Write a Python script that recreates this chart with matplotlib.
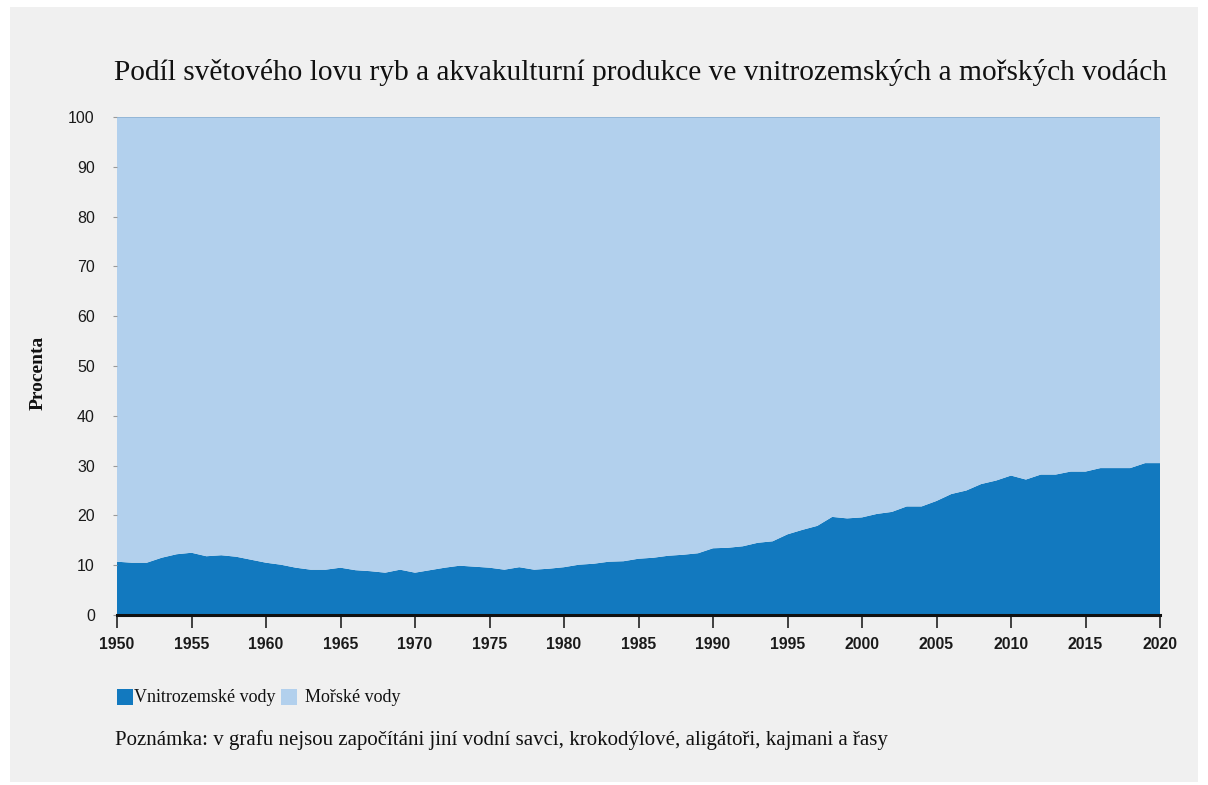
import numpy as np
import matplotlib
matplotlib.use('Agg')
import matplotlib.pyplot as plt
from matplotlib.patches import Rectangle

# Data (percent of total production)
years = list(range(1950, 2021))
inland = [10.7, 10.5, 10.5, 11.5, 12.2, 12.5, 11.8, 12.0, 11.7, 11.1,
          10.5, 10.1, 9.5, 9.1, 9.1, 9.5, 9.0, 8.8, 8.5, 9.1,
          8.5, 9.0, 9.5, 9.9, 9.7, 9.5, 9.1, 9.6, 9.1, 9.3,
          9.6, 10.1, 10.3, 10.7, 10.8, 11.3, 11.5, 11.9, 12.1, 12.4,
          13.4, 13.5, 13.8, 14.5, 14.8, 16.2, 17.1, 17.9, 19.7, 19.4,
          19.6, 20.3, 20.7, 21.8, 21.8, 22.9, 24.3, 25.0, 26.3, 27.0,
          28.0, 27.2, 28.2, 28.2, 28.8, 28.8, 29.5, 29.5, 29.5, 30.5,
          30.5]
marine = [100 - v for v in inland]

series_labels = ['Vnitrozemské vody', 'Mořské vody']
title = 'Podíl světového lovu ryb a akvakulturní produkce ve vnitrozemských a mořských vodách'
note = 'Poznámka: v grafu nejsou započítáni jiní vodní savci, krokodýlové, aligátoři, kajmani a řasy'

dark_blue = '#1279bf'
light_blue = '#b2d0ed'
panel_bg = '#f0f0f0'

W, H = 1208, 785
fig = plt.figure(figsize=(W / 100, H / 100), dpi=100)
fig.patch.set_facecolor('white')

# grey panel behind everything
fig.patches.append(Rectangle((10 / W, 1 - 782 / H), (1198 - 10) / W, (782 - 7) / H,
                             transform=fig.transFigure, facecolor=panel_bg,
                             edgecolor='none', zorder=-5))

ax = fig.add_axes([117 / W, 1 - 615 / H, (1160 - 117) / W, (615 - 117) / H])
ax.set_zorder(2)
ax.set_facecolor(panel_bg)

x = np.array(years)
ax.stackplot(x, inland, marine, colors=[dark_blue, light_blue],
             labels=series_labels, linewidth=0)
ax.plot(x, np.full(len(x), 100), color='#8fb2d3', linewidth=1.2, zorder=3)

ax.set_xlim(1950, 2020)
ax.set_ylim(0, 100)
ax.set_xticks(range(1950, 2021, 5))
ax.set_yticks(range(0, 101, 10))

sans = ['Liberation Sans', 'DejaVu Sans']
serif = ['Liberation Serif', 'DejaVu Serif']

for lbl in ax.get_xticklabels():
    lbl.set_fontfamily(sans)
    lbl.set_fontweight('bold')
    lbl.set_fontsize(11.3)
for lbl in ax.get_yticklabels():
    lbl.set_fontfamily(sans)
    lbl.set_fontsize(11.5)

ax.tick_params(axis='x', length=9, width=1.2, color='#222222', pad=7,
               labelcolor='#1a1a1a')
ax.tick_params(axis='y', length=3, width=0.8, color='#999999', pad=13,
               labelcolor='#1a1a1a')

for side in ['top', 'right', 'left']:
    ax.spines[side].set_visible(False)
ax.spines['bottom'].set_linewidth(2.2)
ax.spines['bottom'].set_color('#111111')
ax.spines['bottom'].set_zorder(5)

fig.text(640 / W, 1 - 72 / H, title, ha='center', va='center',
         fontsize=21.2, family=serif, color='#111111')

fig.text(38 / W, 1 - 373 / H, 'Procenta', rotation=90, ha='center', va='center',
         fontsize=14, family=serif, fontweight='bold', color='#111111')

# legend drawn as squares + text to match the reference placement
leg_y = 1 - 697 / H
sq = 16
for px, tx, color, label in [(117, 134, dark_blue, series_labels[0]),
                             (281, 305, light_blue, series_labels[1])]:
    fig.patches.append(Rectangle((px / W, leg_y - sq / 2 / H), sq / W, sq / H,
                                 transform=fig.transFigure, facecolor=color,
                                 edgecolor='none'))
    fig.text(tx / W, leg_y, label, ha='left', va='center',
             fontsize=13, family=serif, color='#111111')

fig.text(115 / W, 1 - 740 / H, note, ha='left', va='center',
         fontsize=15, family=serif, color='#111111')

fig.savefig('out.png', dpi=100, facecolor=fig.get_facecolor())
